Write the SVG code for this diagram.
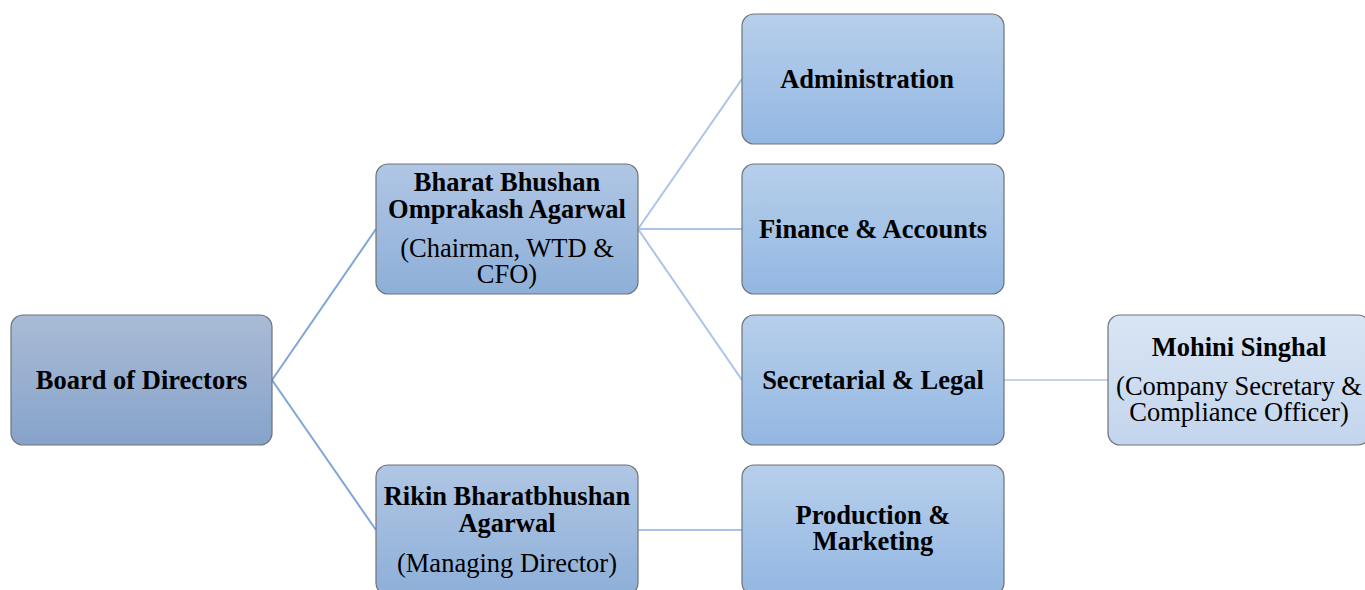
<svg xmlns="http://www.w3.org/2000/svg" width="1365" height="590" viewBox="0 0 1365 590">
<defs>
<linearGradient id="g0" x1="0" y1="0" x2="0" y2="1"><stop offset="0" stop-color="#a9bbd6"/><stop offset="1" stop-color="#87a3ca"/></linearGradient>
<linearGradient id="g1" x1="0" y1="0" x2="0" y2="1"><stop offset="0" stop-color="#b0c6e4"/><stop offset="1" stop-color="#8eafd8"/></linearGradient>
<linearGradient id="g2" x1="0" y1="0" x2="0" y2="1"><stop offset="0" stop-color="#b7cfeb"/><stop offset="1" stop-color="#93b7e2"/></linearGradient>
<linearGradient id="g3" x1="0" y1="0" x2="0" y2="1"><stop offset="0" stop-color="#d9e5f4"/><stop offset="1" stop-color="#c3d5ed"/></linearGradient>
</defs>
<style>
.box{stroke:#6e7378;stroke-width:1.2}
.b{font-family:"Liberation Serif","Times New Roman",serif;font-weight:bold;font-size:26.5px;fill:#000;text-anchor:middle}
.r{font-family:"Liberation Serif","Times New Roman",serif;font-size:26.5px;fill:#000;text-anchor:middle}
.c1{stroke:#7ea6d8;stroke-width:2;fill:none}
.c2{stroke:#a9c4e6;stroke-width:2;fill:none}
.c3{stroke:#c6d4e4;stroke-width:2;fill:none}
</style>
<g id="connectors">
<path class="c1" d="M272,380 L376,229"/>
<path class="c1" d="M272,380 L376,530"/>
<path class="c2" d="M638,229 L742,79"/>
<path class="c2" d="M638,229 L742,229"/>
<path class="c2" d="M638,229 L742,380"/>
<path class="c2" d="M638,530 L742,530"/>
<path class="c3" d="M1004,380 L1108,380"/>
</g>
<g id="board">
<rect class="box" x="11" y="315" width="261" height="130" rx="12" fill="url(#g0)"/>
<text class="b" x="141.5" y="389">Board of Directors</text>
</g>
<g id="bharat">
<rect class="box" x="376" y="164" width="262" height="130" rx="12" fill="url(#g1)"/>
<text class="b" x="507" y="191">Bharat Bhushan</text>
<text class="b" x="507" y="218">Omprakash Agarwal</text>
<text class="r" x="507" y="257">(Chairman, WTD &amp;</text>
<text class="r" x="507" y="283">CFO)</text>
</g>
<g id="rikin">
<rect class="box" x="376" y="465" width="262" height="130" rx="12" fill="url(#g1)"/>
<text class="b" x="507" y="505">Rikin Bharatbhushan</text>
<text class="b" x="507" y="532">Agarwal</text>
<text class="r" x="507" y="572">(Managing Director)</text>
</g>
<g id="administration">
<rect class="box" x="742" y="14" width="262" height="130" rx="12" fill="url(#g2)"/>
<text class="b" x="867" y="88">Administration</text>
</g>
<g id="finance">
<rect class="box" x="742" y="164" width="262" height="130" rx="12" fill="url(#g2)"/>
<text class="b" x="873" y="238">Finance &amp; Accounts</text>
</g>
<g id="secretarial">
<rect class="box" x="742" y="315" width="262" height="130" rx="12" fill="url(#g2)"/>
<text class="b" x="873" y="389">Secretarial &amp; Legal</text>
</g>
<g id="production">
<rect class="box" x="742" y="465" width="262" height="130" rx="12" fill="url(#g2)"/>
<text class="b" x="873" y="524">Production &amp;</text>
<text class="b" x="873" y="550">Marketing</text>
</g>
<g id="mohini">
<rect class="box" x="1108" y="315" width="262" height="130" rx="12" fill="url(#g3)"/>
<text class="b" x="1239" y="356">Mohini Singhal</text>
<text class="r" x="1239" y="395">(Company Secretary &amp;</text>
<text class="r" x="1239" y="421">Compliance Officer)</text>
</g>
</svg>
